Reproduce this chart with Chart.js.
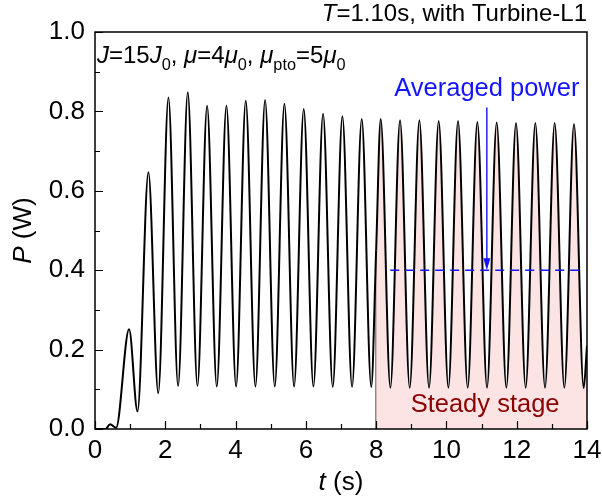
<!DOCTYPE html>
<html>
<head>
<meta charset="utf-8">
<script src="https://cdn.jsdelivr.net/npm/chart.js@4.4.1/dist/chart.umd.min.js"></script>
<style>
  html, body { margin: 0; padding: 0; background: #fff; }
</style>
</head>
<body>
<canvas id="myChart" width="602" height="498"></canvas>
<script>
    // time (s) at the turning points of the power curve
    const timeS = [0, 0.30, 0.43, 0.60, 0.97, 1.21, 1.52, 1.80,
        2.09, 2.365, 2.64, 2.915, 3.19, 3.465, 3.74, 4.015, 4.29, 4.565, 4.84, 5.115,
        5.39, 5.665, 5.94, 6.215, 6.49, 6.765, 7.04, 7.315, 7.59, 7.86, 8.0,
        8.13, 8.405, 8.68, 8.955, 9.23, 9.505, 9.78, 10.055, 10.33, 10.605, 10.88, 11.155,
        11.43, 11.705, 11.98, 12.255, 12.53, 12.805, 13.08, 13.355, 13.63, 13.905, 14.0];
    // power (W)
    const powerW = [0, 0, 0.012, 0.003, 0.251, 0.044, 0.647, 0.090,
        0.835, 0.108, 0.848, 0.108, 0.814, 0.107, 0.814, 0.107, 0.827, 0.107, 0.829, 0.107,
        0.819, 0.107, 0.806, 0.107, 0.794, 0.106, 0.788, 0.106, 0.781, 0.106, 0.45,
        0.781, 0.104, 0.778, 0.104, 0.778, 0.104, 0.776, 0.104, 0.776, 0.104, 0.773, 0.104,
        0.772, 0.104, 0.771, 0.104, 0.771, 0.104, 0.771, 0.104, 0.768, 0.103, 0.21];

    const steadyStart = 8;
    const steadyEdgeP = [0, 0.45];
    const avgPower = 0.40;
    const avgSpan = [8.4, 13.85];
    const arrowT = 11.15;
    const arrowSpan = [0.81, 0.415];

    const xTickVals = [0, 2, 4, 6, 8, 10, 12, 14];
    const xMinorVals = [1, 3, 5, 7, 9, 11, 13];
    const yTickVals = [0, 0.2, 0.4, 0.6, 0.8, 1.0];
    const yMinorVals = [0.1, 0.3, 0.5, 0.7, 0.9];

    const FONT = "'Liberation Sans', Arial, sans-serif";
    const BLUE = '#1414ff';
    const PINK = 'rgba(253, 228, 228, 1)';

    const points = timeS.map((t, i) => ({ x: t, y: powerW[i] }));

    // draw text made of runs: {t, it, sub}
    function drawRuns(ctx, runs, x, y, size, align, color) {
        const fontOf = r => (r.it ? 'italic ' : '') + (r.sub ? size * 0.68 : size) + 'px ' + FONT;
        let w = 0;
        runs.forEach(r => { ctx.font = fontOf(r); w += ctx.measureText(r.t).width; });
        let cx = align === 'right' ? x - w : align === 'center' ? x - w / 2 : x;
        ctx.fillStyle = color;
        ctx.textBaseline = 'alphabetic';
        ctx.textAlign = 'left';
        runs.forEach(r => {
            ctx.font = fontOf(r);
            ctx.fillText(r.t, cx, r.sub ? y + size * 0.28 : y);
            cx += ctx.measureText(r.t).width;
        });
    }

    const decor = {
        id: 'decor',
        afterDraw(chart) {
            const ctx = chart.ctx;
            const a = chart.chartArea;
            const xs = chart.scales.x, ys = chart.scales.y;
            ctx.save();

            // inward ticks
            ctx.strokeStyle = '#000';
            ctx.lineWidth = 1.2;
            ctx.beginPath();
            xTickVals.concat(xMinorVals).forEach(v => {
                const px = Math.round(xs.getPixelForValue(v)) + 0.5;
                const len = xTickVals.includes(v) ? 8 : 5;
                ctx.moveTo(px, a.bottom); ctx.lineTo(px, a.bottom - len);
            });
            yTickVals.concat(yMinorVals).forEach(v => {
                const py = Math.round(ys.getPixelForValue(v)) + 0.5;
                const len = yTickVals.includes(v) ? 8 : 5;
                ctx.moveTo(a.left, py); ctx.lineTo(a.left + len, py);
            });
            ctx.stroke();

            // frame
            ctx.lineWidth = 1.5;
            ctx.strokeRect(a.left, a.top, a.right - a.left, a.bottom - a.top);

            // arrow head
            const ax = xs.getPixelForValue(arrowT);
            const ay = ys.getPixelForValue(avgPower);
            ctx.fillStyle = BLUE;
            ctx.beginPath();
            ctx.moveTo(ax, ay);
            ctx.lineTo(ax - 3.5, ay - 12);
            ctx.lineTo(ax + 3.5, ay - 12);
            ctx.closePath();
            ctx.fill();

            // texts
            drawRuns(ctx, [{ t: 'T', it: true }, { t: '=1.10s, with Turbine-L1' }], a.right, 21, 24, 'right', '#000');
            drawRuns(ctx, [
                { t: 'J', it: true }, { t: '=15' }, { t: 'J', it: true }, { t: '0', sub: true },
                { t: ', ' }, { t: 'μ', it: true }, { t: '=4' }, { t: 'μ', it: true }, { t: '0', sub: true },
                { t: ', ' }, { t: 'μ', it: true }, { t: 'pto', sub: true }, { t: '=5' }, { t: 'μ', it: true }, { t: '0', sub: true }
            ], a.left + 2, 63, 24, 'left', '#000');
            drawRuns(ctx, [{ t: 'Averaged power' }], xs.getPixelForValue(arrowT), ys.getPixelForValue(0.839), 25.5, 'center', BLUE);
            drawRuns(ctx, [{ t: 'Steady stage' }], xs.getPixelForValue(11.1), ys.getPixelForValue(0.043), 25.5, 'center', '#8b0000');
            drawRuns(ctx, [{ t: 't', it: true }, { t: ' (s)' }], (a.left + a.right) / 2, 490, 26, 'center', '#000');

            ctx.translate(31, (a.top + a.bottom) / 2);
            ctx.rotate(-Math.PI / 2);
            drawRuns(ctx, [{ t: 'P', it: true }, { t: ' (W)' }], 0, 0, 26, 'center', '#000');
            ctx.restore();
        }
    };

    new Chart('myChart', {
        type: 'line',
        data: {
            datasets: [{
                label: 'P',
                data: points,
                borderColor: '#000',
                borderWidth: 2,
                pointRadius: 0,
                cubicInterpolationMode: 'monotone',
                fill: 'origin',
                backgroundColor: 'rgba(0,0,0,0)',
                segment: {
                    backgroundColor: c => c.p0.parsed.x >= steadyStart ? PINK : 'rgba(0,0,0,0)'
                },
                order: 1
            }, {
                label: 'steady edge',
                data: steadyEdgeP.map(p => ({ x: steadyStart, y: p })),
                borderColor: '#000',
                borderWidth: 1.2,
                pointRadius: 0,
                order: 2
            }, {
                label: 'averaged',
                data: avgSpan.map(t => ({ x: t, y: avgPower })),
                borderColor: BLUE,
                borderWidth: 1.4,
                borderDash: [9, 6],
                pointRadius: 0,
                order: 0
            }, {
                label: 'arrow',
                data: arrowSpan.map(p => ({ x: arrowT, y: p })),
                borderColor: BLUE,
                borderWidth: 1.4,
                pointRadius: 0,
                order: 0
            }]
        },
        options: {
            responsive: false,
            animation: false,
            layout: { padding: { top: 32, right: 0, left: 0, bottom: 0 } },
            plugins: {
                legend: { display: false },
                tooltip: { enabled: false }
            },
            scales: {
                x: {
                    type: 'linear',
                    min: 0,
                    max: 14,
                    afterBuildTicks: s => { s.ticks = xTickVals.map(v => ({ value: v })); },
                    afterFit: s => { s.height = 69; s.paddingRight = 15; },
                    grid: { display: false, drawTicks: false },
                    border: { display: false },
                    ticks: {
                        color: '#000',
                        padding: 6,
                        maxRotation: 0,
                        font: { family: FONT, size: 26 }
                    }
                },
                y: {
                    min: 0,
                    max: 1,
                    afterBuildTicks: s => { s.ticks = yTickVals.map(v => ({ value: v })); },
                    afterFit: s => { s.width = 95; },
                    grid: { display: false, drawTicks: false },
                    border: { display: false },
                    ticks: {
                        color: '#000',
                        padding: 10,
                        font: { family: FONT, size: 26 },
                        callback: v => v.toFixed(1)
                    }
                }
            }
        },
        plugins: [decor]
    });
</script>
</body>
</html>
